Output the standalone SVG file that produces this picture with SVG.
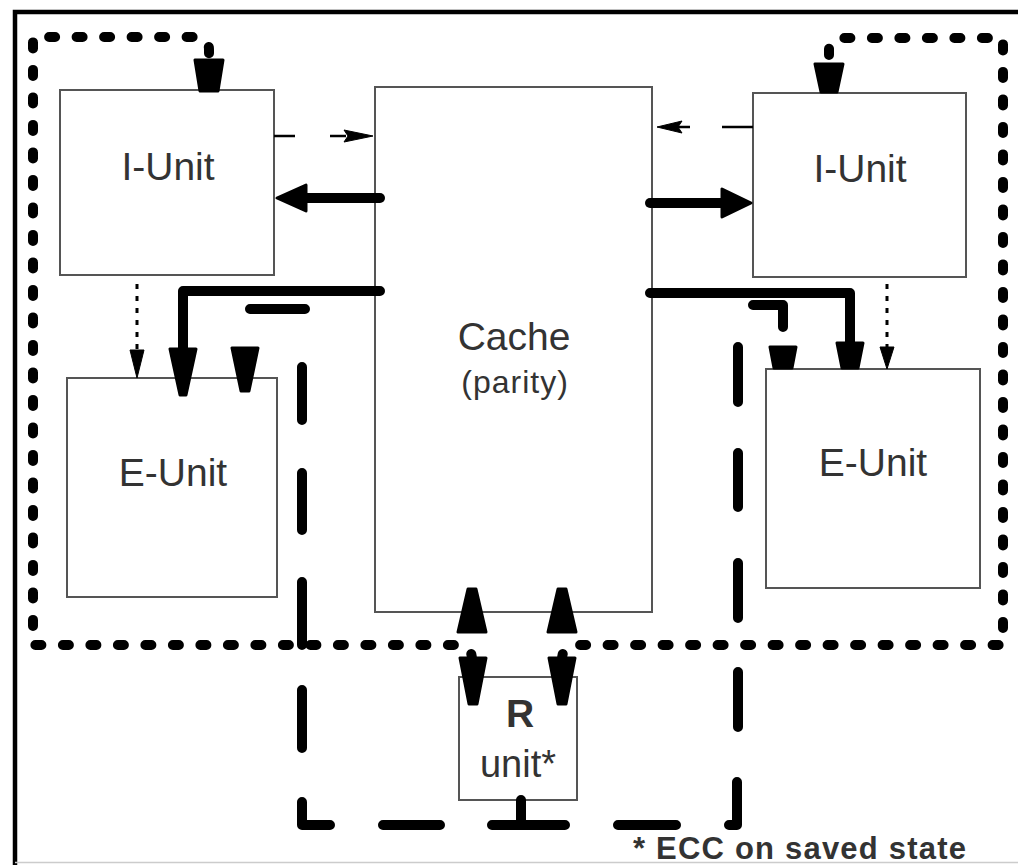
<svg xmlns="http://www.w3.org/2000/svg" width="1018" height="865" viewBox="0 0 1018 865">
<style>
.box{fill:#fff;stroke:#555;stroke-width:2}
.lbl{font-family:"Liberation Sans",Arial,sans-serif;fill:#333;text-anchor:middle}
.thick{fill:none;stroke:#000;stroke-width:10;stroke-linecap:round;stroke-linejoin:round}
.dash{fill:none;stroke:#000;stroke-width:10;stroke-linecap:round;stroke-linejoin:round}
.dot{fill:none;stroke:#000;stroke-width:10;stroke-linecap:round;stroke-linejoin:round;stroke-dasharray:6 21.5}
.thinDash{fill:none;stroke:#000;stroke-width:2.5}
.thinDot{fill:none;stroke:#000;stroke-width:3;stroke-dasharray:5 7}
.ah{fill:#000;stroke:#000;stroke-width:3;stroke-linejoin:round}
.ahs{fill:#000;stroke:#000;stroke-width:1;stroke-linejoin:round}
</style>
<rect x="0" y="0" width="1018" height="865" fill="#fff"/>
<g id="frame">
<path d="M15,865 V12 H1018" fill="none" stroke="#000" stroke-width="4.5"/>
<line x1="15" y1="862.5" x2="1018" y2="862.5" stroke="#ccc" stroke-width="1.5"/>
</g>
<g id="iunit-left"><rect class="box" x="60" y="90" width="214" height="185"/><text class="lbl" x="168" y="180" font-size="39">I-Unit</text></g>
<g id="eunit-left"><rect class="box" x="67" y="378" width="210" height="219"/><text class="lbl" x="173" y="486" font-size="39">E-Unit</text></g>
<g id="cache"><rect class="box" x="375" y="87" width="277" height="525"/><text class="lbl" x="514" y="350" font-size="39">Cache</text><text class="lbl" x="515" y="393" font-size="32" letter-spacing="1">(parity)</text></g>
<g id="iunit-right"><rect class="box" x="753" y="93" width="213" height="184"/><text class="lbl" x="860" y="182" font-size="39">I-Unit</text></g>
<g id="eunit-right"><rect class="box" x="766" y="369" width="214" height="219"/><text class="lbl" x="873" y="476" font-size="39">E-Unit</text></g>
<g id="runit"><rect class="box" x="459" y="677" width="118" height="123"/><text class="lbl" x="520" y="727" font-size="39" font-weight="bold">R</text><text class="lbl" x="518" y="777" font-size="38">unit*</text></g>
<g id="connectors">
<path class="dot" d="M472,660 Q472,645 458,645 H33 V37 H196 Q209,37 209,50 V56"/>
<path class="dot" d="M562,660 Q562,645 576,645 H1003 V38 H842 Q829,38 829,50 V58"/>
<polygon class="ah" points="195,60 223,60 218,91 200,91"/>
<polygon class="ah" points="815,64 843,64 837,92 821,92"/>
<polygon class="ah" points="458,632 486,632 476,589 468,589"/>
<polygon class="ah" points="548,632 576,632 566,589 558,589"/>
<polygon class="ah" points="460,658 486,658 477,704 469,704"/>
<polygon class="ah" points="549,658 575,658 566,704 558,704"/>
<path class="dash" d="M521,800 V825 M492,825 H565 M383,825 H440 M330,825 H302 V802 M302,690 V748 M302,582 V645 M302,473 V530 M302,367 V420 M250,309 H305"/>
<path class="dash" d="M618,825 H676 M729,825 H737 V782 M738,672 V727 M738,563 V618 M738,453 V507 M738,347 V402 M753,305 H783 V327"/>
<polygon class="ah" points="232,348 258,348 249,391 241,391"/>
<polygon class="ah" points="770,347 796,347 792,368 774,368"/>
<path class="thick" d="M380,198 H300"/>
<polygon class="ah" points="306,185 306,211 277,198"/>
<path class="thick" d="M650,203 H725"/>
<polygon class="ah" points="722,189 722,217 751,203"/>
<path class="thick" d="M380,291 H183 V350"/>
<polygon class="ah" points="170,349 196,349 186,395 180,395"/>
<path class="thick" d="M650,293 H850 V345"/>
<polygon class="ah" points="837,343 863,343 858,368 842,368"/>
<path class="thinDash" d="M274,136 H295 M330,136 H346"/>
<polygon class="ahs" points="344,130 373,136 344,142 348,136"/>
<path class="thinDash" d="M753,127 H722 M690,127 H676"/>
<polygon class="ahs" points="682,121 657,127 682,133 678,127"/>
<path class="thinDot" d="M137,284 V352"/>
<polygon class="ahs" points="130,350 144,350 137,378"/>
<path class="thinDot" d="M887,284 V349"/>
<polygon class="ahs" points="880,347 894,347 887,369"/>
</g>
<g id="note">
<text x="633" y="859" font-family="'Liberation Sans',Arial,sans-serif" font-size="31" font-weight="bold" fill="#333" letter-spacing="1.2">* ECC on saved state</text>
</g>
</svg>
